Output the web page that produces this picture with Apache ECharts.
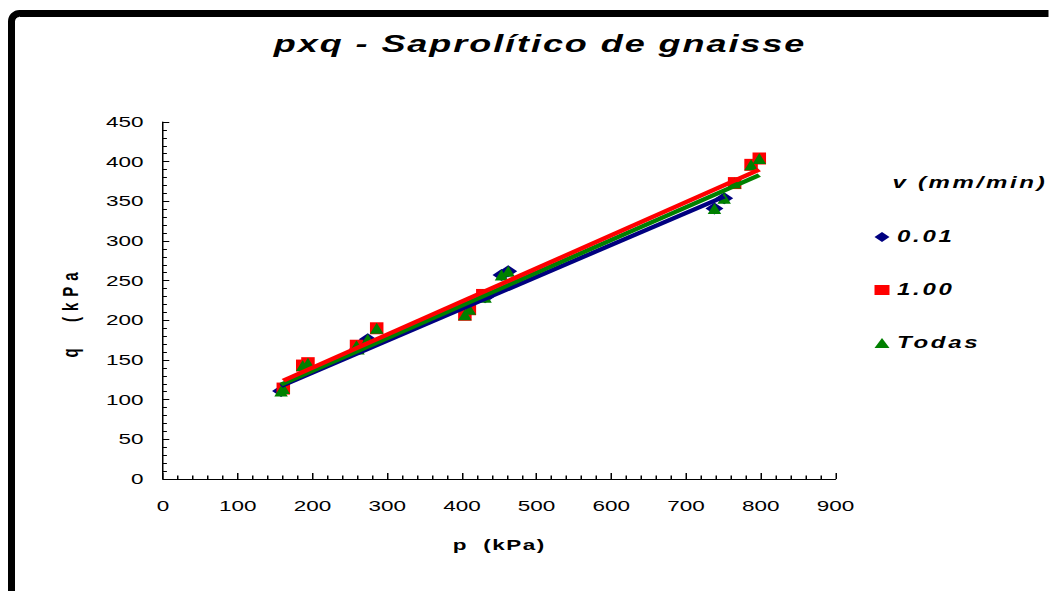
<!DOCTYPE html>
<html>
<head>
<meta charset="utf-8">
<script src="https://cdn.jsdelivr.net/npm/echarts@6/dist/echarts.min.js"></script>
<style>
  html, body { margin: 0; padding: 0; background: #fff; overflow: hidden; }
  /* the chart is laid out narrow and widened 1.5x, like the stretched spreadsheet figure */
  #chart { width: 699.333px; height: 591px; transform: scaleX(1.5); transform-origin: 0 0; }
</style>
</head>
<body>
<div id="chart"></div>
<script>
// p (kPa) versus q (kPa) measurements for each loading rate
const speed001 = [[158, 111], [261, 164], [274, 176], [431, 229], [453, 257], [462, 262], [738, 341], [751, 354]];
const speed100 = [[161, 114], [187, 143], [194, 146], [259, 168], [286, 190], [404, 207], [410, 214], [428, 232], [765, 373], [787, 396], [798, 404]];
// linear trend lines (end points) for each set
const fit001 = [[158, 117], [751, 356]];
const fit100 = [[161, 124], [798, 390]];
const fitAll = [[158, 119], [798, 383]];

const seriesNames = ['0.01', '1.00', 'Todas'];
const titleText = 'pxq - Saprolítico de gnaisse';
const legendTitle = 'v (mm/min)';
const xName = 'p  (kPa)';
const yName = 'q  (kPa';
const xTicks = { min: 0, max: 900, step: 100 };
const yTicks = { min: 0, max: 450, step: 50 };

const allPoints = speed001.concat(speed100);

const SX = 1.5;            // horizontal stretch applied by CSS
const FONT = '"Liberation Sans", Arial, sans-serif';
const NAVY = '#000080', RED = '#ff0000', GREEN = '#008000';

// extra character spacing for the headline-style texts
const letterSpacing = {};
letterSpacing[titleText] = 1.3;
letterSpacing[legendTitle] = 1.8;
letterSpacing[seriesNames[0]] = 1.8;
letterSpacing[seriesNames[1]] = 1.8;
letterSpacing[seriesNames[2]] = 1.8;
letterSpacing[xName] = 1;
letterSpacing[yName] = 6;

const chart = echarts.init(document.getElementById('chart'), null, { renderer: 'svg' });

const axisCommon = {
  type: 'value',
  splitLine: { show: false },
  axisLine: { show: true, onZero: false, lineStyle: { color: '#000', width: 1 } },
  axisLabel: { color: '#000', fontSize: 15, fontFamily: FONT },
};

chart.setOption({
  animation: false,
  backgroundColor: '#fff',
  title: {
    text: titleText,
    left: 360, top: 31, padding: 0, textAlign: 'center',
    textStyle: { fontSize: 24, fontWeight: 'bold', fontStyle: 'italic', fontFamily: FONT, color: '#000' }
  },
  legend: {
    data: seriesNames,
    orient: 'vertical',
    left: 583, top: 229, padding: 0,
    itemWidth: 10, itemHeight: 10, itemGap: 37,
    selectedMode: false,
    textStyle: { fontSize: 16, fontWeight: 'bold', fontStyle: 'italic', fontFamily: FONT, color: '#000' }
  },
  graphic: [
    {
      // outer frame of the figure
      type: 'rect', silent: true, scaleX: 1 / SX,
      shape: { x: 11.5, y: 13.5, width: 1300, height: 800, r: 8 },
      style: { fill: 'none', stroke: '#000', lineWidth: 7 }
    },
    {
      type: 'text', silent: true, x: 595, y: 183,
      style: { text: legendTitle, fontSize: 16, fontWeight: 'bold', fontStyle: 'italic', fontFamily: FONT, fill: '#000', align: 'left', verticalAlign: 'middle' }
    },
    {
      type: 'text', silent: true, x: 46.7, y: 312, rotation: Math.PI / 2,
      style: { text: yName, fontSize: 15, fontWeight: 'bold', fontFamily: FONT, fill: '#000', align: 'center', verticalAlign: 'middle' }
    }
  ],
  grid: { left: 108.667, right: 142, top: 122, bottom: 112, containLabel: false },
  xAxis: Object.assign({}, axisCommon, {
    min: xTicks.min, max: xTicks.max, interval: xTicks.step,
    axisTick: { show: true, inside: true, length: 6, lineStyle: { color: '#000' } },
    minorTick: { show: true, splitNumber: 5, length: 3.5, lineStyle: { color: '#000' } },
    axisLabel: Object.assign({}, axisCommon.axisLabel, { margin: 19 }),
    name: xName, nameLocation: 'middle', nameGap: 58,
    nameTextStyle: { fontSize: 15, fontWeight: 'bold', fontFamily: FONT, color: '#000' }
  }),
  yAxis: Object.assign({}, axisCommon, {
    min: yTicks.min, max: yTicks.max, interval: yTicks.step,
    axisTick: { show: true, inside: true, length: 4.2, lineStyle: { color: '#000' } },
    minorTick: { show: true, splitNumber: 5, length: 2.6, lineStyle: { color: '#000' } },
    axisLabel: Object.assign({}, axisCommon.axisLabel, { margin: 13 })
  }),
  series: [
    {
      name: seriesNames[0], type: 'scatter', data: speed001, symbol: 'diamond', symbolSize: 12,
      itemStyle: { color: NAVY, opacity: 1 }, z: 2, silent: true
    },
    {
      name: seriesNames[1], type: 'scatter', data: speed100, symbol: 'rect', symbolSize: [9, 12],
      itemStyle: { color: RED, opacity: 1 }, z: 3, silent: true
    },
    {
      name: seriesNames[2], type: 'scatter', data: allPoints, symbol: 'triangle', symbolSize: [9, 11],
      itemStyle: { color: GREEN, opacity: 1 }, z: 4, silent: true
    },
    {
      type: 'line', data: fit001, showSymbol: false, silent: true, z: 5,
      lineStyle: { color: NAVY, width: 4, cap: 'butt' }
    },
    {
      type: 'line', data: fitAll, showSymbol: false, silent: true, z: 6,
      lineStyle: { color: GREEN, width: 4, cap: 'butt' }
    },
    {
      type: 'line', data: fit100, showSymbol: false, silent: true, z: 7,
      lineStyle: { color: RED, width: 4, cap: 'butt' }
    }
  ]
});

// widen the character spacing of the matching SVG text nodes
function applyLetterSpacing() {
  document.querySelectorAll('#chart svg text').forEach(function (node) {
    const s = letterSpacing[node.textContent];
    if (s != null) node.setAttribute('letter-spacing', s);
  });
}
applyLetterSpacing();
chart.on('finished', applyLetterSpacing);
</script>
</body>
</html>
